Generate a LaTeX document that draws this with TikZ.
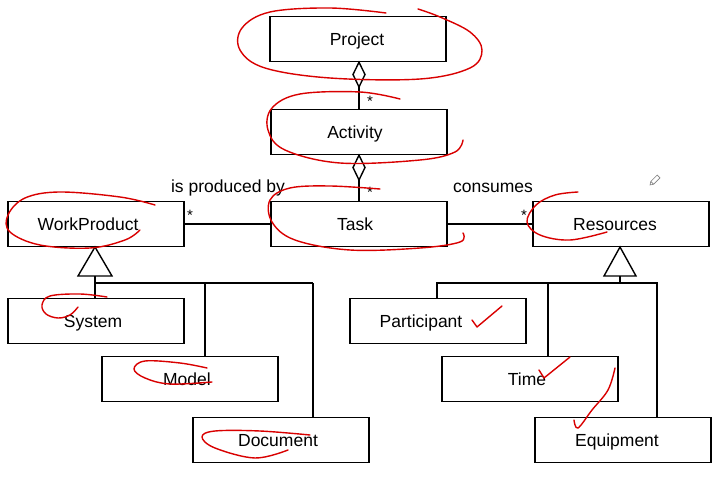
\documentclass[tikz,border=0pt]{standalone}
\usepackage{fontspec}
\setmainfont{Liberation Sans}
\begin{document}
\begin{tikzpicture}[x=1pt,y=-1pt,
  box/.style={draw,line width=1.4pt,minimum width=176pt,minimum height=45pt,inner sep=0pt},
  lbl/.style={font=\fontsize{17.5}{21}\selectfont,inner sep=0pt},
  boxtext/.style={lbl,text height=12.6pt,text depth=0pt},
  mult/.style={font=\fontsize{15}{18}\selectfont,inner sep=0pt},
  conn/.style={line width=1.4pt},
  redpen/.style={draw=red!85!black,line width=1.4pt,line cap=round,line join=round}]
\useasboundingbox[fill=white] (0,0) rectangle (728,481);
% boxes
\node[box] (proj) at (358,39) {};
\node[box] (act)  at (359,132) {};
\node[box] (task) at (359,224) {};
\node[box] (wp)   at (96,224) {};
\node[box] (res)  at (621,224) {};
\node[box] (sys)  at (96,321) {};
\node[box] (mod)  at (190,379) {};
\node[box] (doc)  at (281,440) {};
\node[box] (part) at (438,321) {};
\node[box] (time) at (530,379) {};
\node[box] (equ)  at (623,440) {};
\node[boxtext] (projt) at ([xshift=-1pt]proj.center) {Project};
\node[boxtext] (actt)  at ([xshift=-4pt]act.center) {Activity};
\node[boxtext] (taskt) at ([xshift=-4pt]task.center) {Task};
\node[boxtext] (wpt)   at ([xshift=-8pt]wp.center) {WorkProduct};
\node[boxtext] (rest)  at ([xshift=-6pt]res.center) {Resources};
\node[boxtext] (syst)  at ([xshift=-3pt]sys.center) {System};
\node[boxtext] (modt)  at ([xshift=-3pt]mod.center) {Model};
\node[boxtext] (doct)  at ([xshift=-3pt]doc.center) {Document};
\node[boxtext] (partt) at ([xshift=-17pt]part.center) {Participant};
\node[boxtext] (timet) at ([xshift=-3pt]time.center) {Time};
\node[boxtext] (equt)  at ([xshift=-6pt]equ.center) {Equipment};
% aggregations
\coordinate (d1) at (359,87);
\draw[conn,fill=white] (proj.south -| d1) -- (365,74.5) -- (d1) -- (353,74.5) -- cycle;
\draw[conn] (d1) -- (act.north -| d1);
\coordinate (d2) at (359,180);
\draw[conn,fill=white] (act.south -| d2) -- (365,167.5) -- (d2) -- (353,167.5) -- cycle;
\draw[conn] (d2) -- (task.north -| d2);
\node[mult] (s1) at (370,101) {*};
\node[mult] (s2) at (370,192) {*};
% associations
\draw[conn] (wp.east) -- (task.west);
\draw[conn] (task.east) -- (res.west);
\node[mult] (s3) at (190,215) {*};
\node[mult] (s4) at (524,215) {*};
\node[lbl] (prod) at (228,188) {is produced by};
\node[lbl] (cons) at (493,188) {consumes};
% generalisation WorkProduct
\coordinate (t1) at (95,247);
\draw[conn,fill=white] (t1) -- (112,276) -- (78,276) -- cycle;
\coordinate (b1) at (95,283);
\draw[conn] (95,276) -- (sys.north -| b1);
\draw[conn] (b1) -- (313,283);
\coordinate (v1) at (205,283);
\draw[conn] (v1) -- (mod.north -| v1);
\coordinate (v2) at (313,283);
\draw[conn] (v2) -- (doc.north -| v2);
% generalisation Resources
\coordinate (t2) at (620,247);
\draw[conn,fill=white] (t2) -- (636,276) -- (604,276) -- cycle;
\coordinate (b2) at (620,283);
\draw[conn] (620,276) -- (b2);
\coordinate (v3) at (437,283);
\coordinate (v4) at (548,283);
\coordinate (v5) at (657,283);
\draw[conn] (part.north -| v3) -- (v3) -- (v5) -- (equ.north -| v5);
\draw[conn] (v4) -- (time.north -| v4);
% pencil icon
\draw[gray,line width=0.6pt,rotate around={45:(655,180)}] (651,178) rectangle (660,182) (651,178) -- (648,180) -- (651,182);
% red annotations
\draw[redpen] plot[smooth,tension=0.6] coordinates {(386,13) (330,8) (270,12) (242,28) (240,50) (265,68) (330,78) (420,79) (470,68) (482,50) (470,32) (440,17) (418,9)};
\draw[redpen] plot[smooth,tension=0.6] coordinates {(400,99) (360,92) (300,94) (272,108) (268,130) (285,150) (340,163) (420,160) (455,152) (463,140)};
\draw[redpen] plot[smooth,tension=0.6] coordinates {(380,189) (330,186) (290,188) (270,200) (272,222) (295,240) (350,250) (420,248) (460,242) (463,233)};
\draw[redpen] plot[smooth,tension=0.6] coordinates {(155,205) (120,197) (60,192) (25,198) (8,215) (10,232) (40,245) (90,248) (125,240) (140,230)};
\draw[redpen] plot[smooth,tension=0.6] coordinates {(107,297) (80,294) (50,296) (42,305) (46,314) (58,318) (70,315) (78,307)};
\draw[redpen] plot[smooth,tension=0.6] coordinates {(207,368) (180,363) (145,361) (134,369) (145,378) (170,384) (212,382)};
\draw[redpen] plot[smooth,tension=0.6] coordinates {(310,435) (260,431) (215,431) (202,437) (215,448) (255,458) (288,450)};
\draw[redpen] plot[smooth,tension=0.6] coordinates {(578,192) (555,195) (536,205) (527,222) (540,235) (570,240) (607,232)};
\draw[redpen] (472,320) -- (477,327) -- (502,306);
\draw[redpen] (539,370) -- (544,378) -- (570,357);
\draw[redpen] plot[smooth,tension=0.6] coordinates {(615,368) (608,390) (592,410) (578,428) (574,420)};
\end{tikzpicture}
\end{document}
